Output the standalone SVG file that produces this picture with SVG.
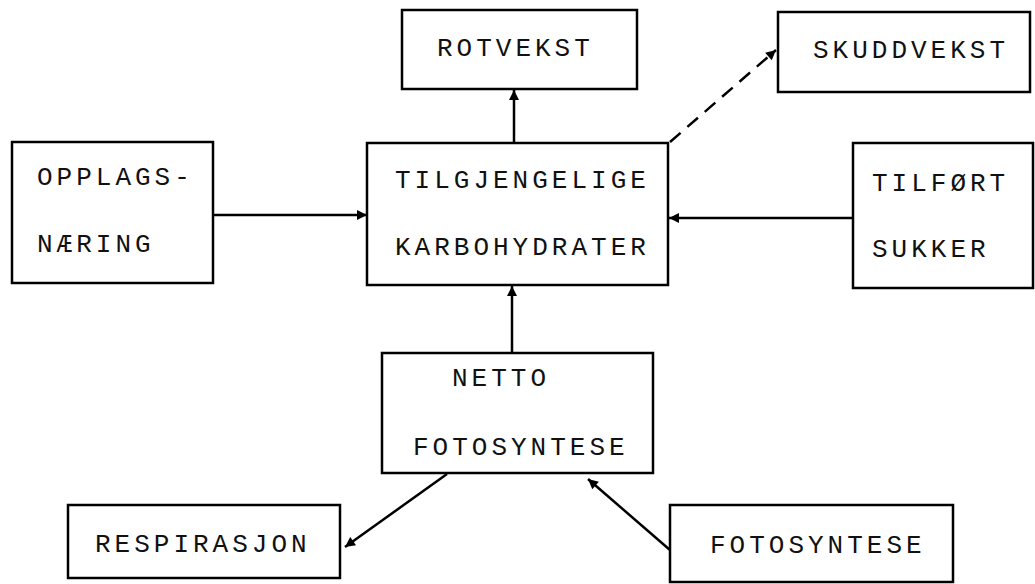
<svg xmlns="http://www.w3.org/2000/svg" width="1035" height="584" viewBox="0 0 1035 584">
  <defs>
    <style>
      .box { fill: #fff; stroke: #000; stroke-width: 2.5; }
      .lbl { font-family: "Liberation Mono", "Courier New", monospace; font-size: 26px; letter-spacing: 4px; fill: #111; }
      .con { fill: none; stroke: #000; stroke-width: 2.5; }
      .dash { stroke-dasharray: 14 9; }
    </style>
    <marker id="ah" markerUnits="userSpaceOnUse" markerWidth="12" markerHeight="12" viewBox="0 0 12 12" refX="11" refY="6" orient="auto">
      <path d="M1,1 L11,6 L1,11 Z" fill="#000"/>
    </marker>
  </defs>
  <rect width="1035" height="584" fill="#fff"/>

  <g id="connectors">
    <line class="con" x1="514" y1="142" x2="514" y2="90" marker-end="url(#ah)"/>
    <line class="con dash" x1="670" y1="142" x2="776" y2="50" marker-end="url(#ah)"/>
    <line class="con" x1="213" y1="215" x2="367" y2="215" marker-end="url(#ah)"/>
    <line class="con" x1="853" y1="218" x2="669" y2="218" marker-end="url(#ah)"/>
    <line class="con" x1="512" y1="353" x2="512" y2="286" marker-end="url(#ah)"/>
    <line class="con" x1="447" y1="474" x2="345" y2="547" marker-end="url(#ah)"/>
    <line class="con" x1="670" y1="550" x2="588" y2="479" marker-end="url(#ah)"/>
  </g>

  <g id="rotvekst">
    <rect class="box" x="402" y="10" width="235" height="79"/>
    <text class="lbl" x="437" y="56">ROTVEKST</text>
  </g>
  <g id="skuddvekst">
    <rect class="box" x="778" y="12" width="252" height="80"/>
    <text class="lbl" x="813" y="58">SKUDDVEKST</text>
  </g>
  <g id="opplagsnaering">
    <rect class="box" x="12" y="142" width="201" height="141"/>
    <text class="lbl" x="37" y="185">OPPLAGS-</text>
    <text class="lbl" x="37" y="252">NÆRING</text>
  </g>
  <g id="karbohydrater">
    <rect class="box" x="367" y="143" width="301" height="142"/>
    <text class="lbl" x="395" y="188">TILGJENGELIGE</text>
    <text class="lbl" x="395" y="255">KARBOHYDRATER</text>
  </g>
  <g id="tilfort-sukker">
    <rect class="box" x="853" y="143" width="180" height="145"/>
    <text class="lbl" x="872" y="191">TILFØRT</text>
    <text class="lbl" x="872" y="257">SUKKER</text>
  </g>
  <g id="netto-fotosyntese">
    <rect class="box" x="382" y="353" width="271" height="120"/>
    <text class="lbl" x="452" y="386">NETTO</text>
    <text class="lbl" x="413" y="455">FOTOSYNTESE</text>
  </g>
  <g id="respirasjon">
    <rect class="box" x="68" y="505" width="272" height="73"/>
    <text class="lbl" x="95" y="552">RESPIRASJON</text>
  </g>
  <g id="fotosyntese">
    <rect class="box" x="670" y="505" width="283" height="77"/>
    <text class="lbl" x="710" y="553">FOTOSYNTESE</text>
  </g>
</svg>
